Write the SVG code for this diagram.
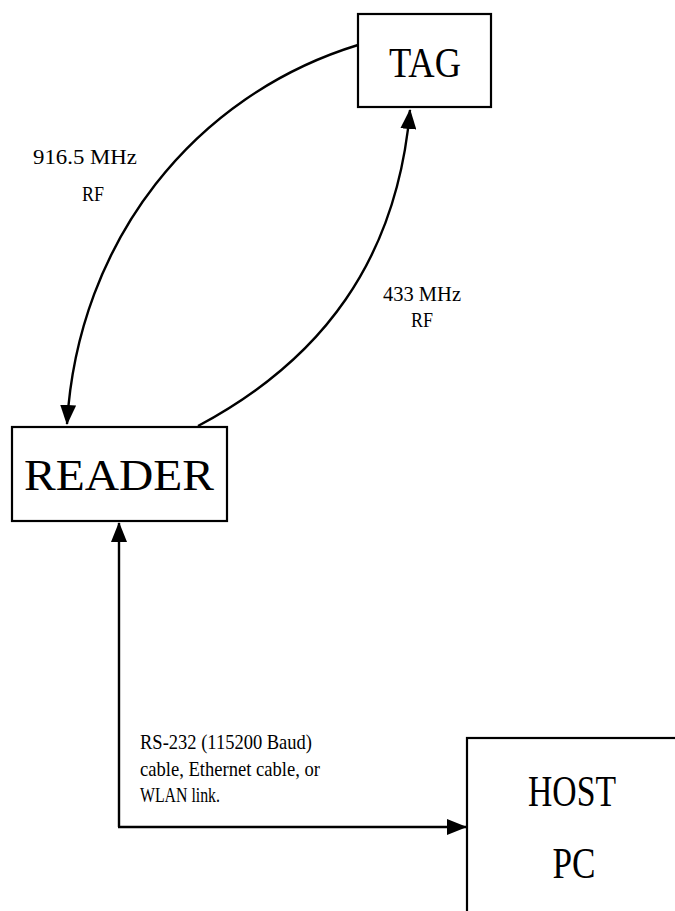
<svg xmlns="http://www.w3.org/2000/svg" width="675" height="911" viewBox="0 0 675 911">
  <style>
    .box { fill: #ffffff; stroke: #000000; stroke-width: 2.2; }
    .big { font-family: "Liberation Serif", "Times New Roman", serif; fill: #000000; text-anchor: middle; }
    .lbl { font-family: "Liberation Serif", "Times New Roman", serif; font-size: 21px; fill: #000000; }
    .wire { fill: none; stroke: #000000; stroke-width: 2.4; }
  </style>
  <defs>
    <marker id="head" viewBox="0 0 20 16" refX="19" refY="8" markerWidth="20" markerHeight="16" markerUnits="userSpaceOnUse" orient="auto">
      <path d="M0,0 L20,8 L0,16 Z" fill="#000000"/>
    </marker>
  </defs>
  <rect width="675" height="911" fill="#ffffff"/>

  <g id="connectors">
    <!-- 916.5 MHz link, TAG to READER -->
    <path class="wire" d="M358,45 C195,95 78,240 67,424" marker-end="url(#head)"/>
    <!-- 433 MHz link, READER to TAG -->
    <path class="wire" d="M198,426 C322,360 397,260 410,110" marker-end="url(#head)"/>
    <!-- wired link, HOST PC to READER -->
    <path class="wire" d="M119,827 L119,523" marker-end="url(#head)"/>
    <path class="wire" d="M118,827 L466,827" marker-end="url(#head)"/>
  </g>

  <g id="tag">
    <rect class="box" x="358" y="14" width="133" height="93"/>
    <text class="big" x="425" y="77" font-size="42" textLength="72" lengthAdjust="spacingAndGlyphs">TAG</text>
  </g>

  <g id="reader">
    <rect class="box" x="12" y="427" width="215" height="94"/>
    <text class="big" x="119" y="490" font-size="44" textLength="190" lengthAdjust="spacingAndGlyphs">READER</text>
  </g>

  <g id="host-pc">
    <rect class="box" x="467" y="738" width="230" height="200"/>
    <text class="big" x="572" y="806" font-size="44" textLength="88" lengthAdjust="spacingAndGlyphs">HOST</text>
    <text class="big" x="574" y="878" font-size="44" textLength="43" lengthAdjust="spacingAndGlyphs">PC</text>
  </g>

  <g id="labels">
    <text class="lbl" x="33" y="164" textLength="104" lengthAdjust="spacingAndGlyphs">916.5 MHz</text>
    <text class="lbl" x="82" y="201" textLength="22" lengthAdjust="spacingAndGlyphs">RF</text>
    <text class="lbl" x="383" y="301" textLength="78" lengthAdjust="spacingAndGlyphs">433 MHz</text>
    <text class="lbl" x="411" y="327" textLength="22" lengthAdjust="spacingAndGlyphs">RF</text>
    <text class="lbl" x="140" y="749" textLength="172" lengthAdjust="spacingAndGlyphs">RS-232 (115200 Baud)</text>
    <text class="lbl" x="140" y="776" textLength="180" lengthAdjust="spacingAndGlyphs">cable, Ethernet cable, or</text>
    <text class="lbl" x="140" y="802" textLength="80" lengthAdjust="spacingAndGlyphs">WLAN link.</text>
  </g>
</svg>
